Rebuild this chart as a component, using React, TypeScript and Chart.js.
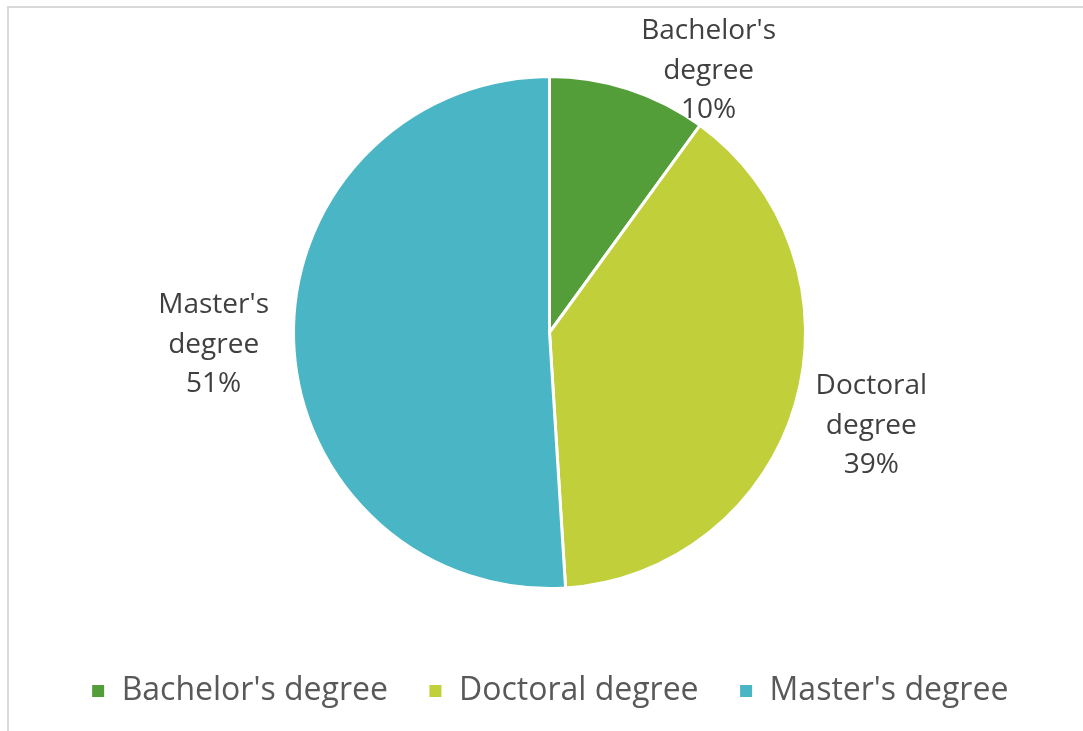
import React, { useEffect, useRef } from "react";
import { Chart, registerables } from "chart.js";

Chart.register(...registerables);

const categories: string[] = ["Bachelor's degree", "Doctoral degree", "Master's degree"];
const values: number[] = [10, 39, 51];
const labelLines: string[][] = [
  ["Bachelor's", "degree", "10%"],
  ["Doctoral", "degree", "39%"],
  ["Master's", "degree", "51%"],
];
const colors: string[] = ["#549E39", "#C0CF3A", "#4AB5C4"];

// layout offsets of each data label from the arc's outer mid-point (px)
const labelOffsets: [number, number][] = [
  [80, -18],
  [76, 22],
  [-80, 4],
];

const FONT = "'Open Sans', Lato, sans-serif";

const outsideLabels = {
  id: "outsideLabels",
  afterDatasetsDraw(chart: any) {
    const ctx = chart.ctx;
    const meta = chart.getDatasetMeta(0);
    ctx.save();
    ctx.font = `28px ${FONT}`;
    ctx.fillStyle = "#404040";
    ctx.textAlign = "center";
    ctx.textBaseline = "middle";
    const lh = 39.5;
    meta.data.forEach((arc: any, i: number) => {
      const { x, y, startAngle, endAngle, outerRadius } = arc.getProps(
        ["x", "y", "startAngle", "endAngle", "outerRadius"],
        true
      );
      const mid = (startAngle + endAngle) / 2;
      const mx = x + Math.cos(mid) * outerRadius + labelOffsets[i][0];
      const my = y + Math.sin(mid) * outerRadius + labelOffsets[i][1];
      const lines = labelLines[i];
      lines.forEach((t, k) => {
        ctx.fillText(t, mx, my + (k - (lines.length - 1) / 2) * lh);
      });
    });
    ctx.restore();
  },
};

export default function App() {
  const ref = useRef<HTMLCanvasElement | null>(null);
  useEffect(() => {
    if (!ref.current) return;
    const chart = new Chart(ref.current, {
      type: "pie",
      data: {
        labels: categories,
        datasets: [
          {
            data: values,
            backgroundColor: colors,
            borderColor: "#ffffff",
            borderWidth: 3,
            radius: 256,
          } as any,
        ],
      },
      options: {
        animation: false,
        responsive: false,
        maintainAspectRatio: false,
        layout: { padding: { left: 16, right: 0, top: 30, bottom: 14 } },
        plugins: {
          legend: {
            position: "bottom",
            labels: {
              boxWidth: 15,
              boxHeight: 15,
              padding: 40,
              color: "#595959",
              font: { size: 32, family: FONT },
            },
          },
          tooltip: { enabled: false },
        },
      },
      plugins: [outsideLabels],
    });
    return () => chart.destroy();
  }, []);

  return (
    <div
      style={{
        position: "fixed",
        left: 0,
        top: 0,
        width: 1083,
        height: 731,
        overflow: "hidden",
        background: "#ffffff",
      }}
    >
      <div
        style={{
          position: "absolute",
          left: 7,
          top: 6,
          width: 1200,
          height: 900,
          borderTop: "2px solid #d9d9d9",
          borderLeft: "2px solid #d9d9d9",
        }}
      />
      <canvas
        ref={ref}
        width={1083}
        height={731}
        style={{ position: "absolute", left: 0, top: 0, width: 1083, height: 731 }}
      />
    </div>
  );
}
